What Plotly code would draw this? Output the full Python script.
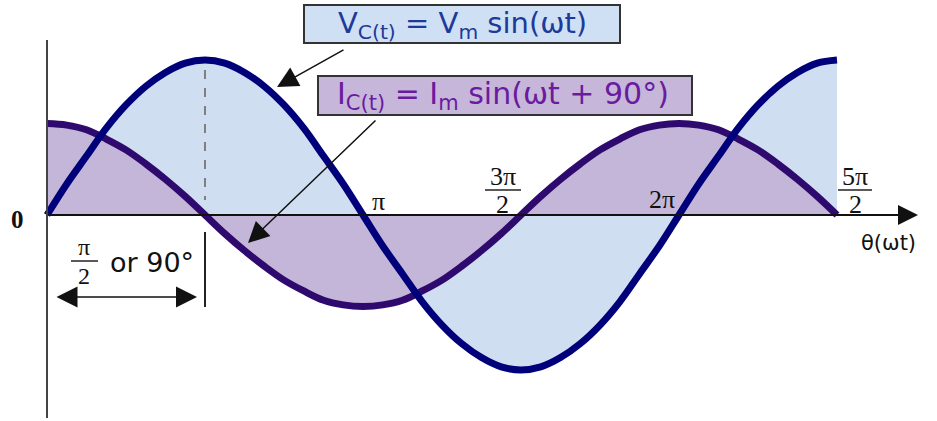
import plotly.graph_objects as go

# ---- data (x in multiples of pi) ----
theta_pi = [0, 0.0625, 0.125, 0.1875, 0.25, 0.3125, 0.375, 0.4375, 0.5,
            0.5625, 0.625, 0.6875, 0.75, 0.8125, 0.875, 0.9375, 1.0,
            1.0625, 1.125, 1.1875, 1.25, 1.3125, 1.375, 1.4375, 1.5,
            1.5625, 1.625, 1.6875, 1.75, 1.8125, 1.875, 1.9375, 2.0,
            2.0625, 2.125, 2.1875, 2.25, 2.3125, 2.375, 2.4375, 2.5]
voltage = [0, 0.20, 0.38, 0.56, 0.71, 0.83, 0.92, 0.98, 1.0,
           0.98, 0.92, 0.83, 0.71, 0.56, 0.38, 0.20, 0,
           -0.20, -0.38, -0.56, -0.71, -0.83, -0.92, -0.98, -1.0,
           -0.98, -0.92, -0.83, -0.71, -0.56, -0.38, -0.20, 0,
           0.20, 0.38, 0.56, 0.71, 0.83, 0.92, 0.98, 1.0]
current = [0.59, 0.58, 0.55, 0.49, 0.42, 0.33, 0.23, 0.12, 0,
           -0.12, -0.23, -0.33, -0.42, -0.49, -0.55, -0.58, -0.59,
           -0.58, -0.55, -0.49, -0.42, -0.33, -0.23, -0.12, 0,
           0.12, 0.23, 0.33, 0.42, 0.49, 0.55, 0.58, 0.59,
           0.58, 0.55, 0.49, 0.42, 0.33, 0.23, 0.12, 0]

W, H = 937, 421
X0, XS = 47, 316      # pixel of theta=0, pixels per pi
Y0, YS = 215, 155     # pixel of zero, pixels per unit


def px(x):
    return x / W


def py(y):
    return 1 - y / H


V_LINE, V_FILL = "#00007a", "#d0def1"
I_LINE, I_FILL = "#2f0a6e", "#c4b6d8"
SERIF = "Liberation Serif"
SANS = "DejaVu Sans"

fig = go.Figure()
fig.add_trace(go.Scatter(x=theta_pi, y=voltage, fill="tozeroy", fillcolor=V_FILL,
                         mode="lines", line=dict(width=0, shape="spline", smoothing=1),
                         hoverinfo="skip", showlegend=False))
fig.add_trace(go.Scatter(x=theta_pi, y=current, fill="tozeroy", fillcolor=I_FILL,
                         mode="lines", line=dict(width=0, shape="spline", smoothing=1),
                         hoverinfo="skip", showlegend=False))
fig.add_trace(go.Scatter(x=theta_pi, y=current, mode="lines",
                         line=dict(color=I_LINE, width=7, shape="spline", smoothing=1),
                         showlegend=False))
fig.add_trace(go.Scatter(x=theta_pi, y=voltage, mode="lines",
                         line=dict(color=V_LINE, width=7, shape="spline", smoothing=1),
                         showlegend=False))

shapes = [
    # vertical axis
    dict(type="line", xref="paper", yref="paper", x0=px(X0), x1=px(X0), y0=py(40), y1=py(418),
         line=dict(color="#444444", width=2)),
    # dashed marker at pi/2
    dict(type="line", xref="paper", yref="paper", x0=px(205), x1=px(205), y0=py(70), y1=py(200),
         line=dict(color="#7f7f7f", width=2, dash="dash")),
    # solid marker below axis
    dict(type="line", xref="paper", yref="paper", x0=px(205), x1=px(205), y0=py(232), y1=py(307),
         line=dict(color="#222222", width=2)),
    # label boxes
    dict(type="rect", xref="paper", yref="paper", x0=px(304), x1=px(620), y0=py(5), y1=py(43),
         fillcolor="#cfe0f4", line=dict(color="#333333", width=2), layer="above"),
    dict(type="rect", xref="paper", yref="paper", x0=px(318), x1=px(692), y0=py(76), y1=py(115),
         fillcolor="#c6b7da", line=dict(color="#333333", width=2), layer="above"),
    # fraction bars
    dict(type="line", xref="paper", yref="paper", x0=px(71), x1=px(98), y0=py(261), y1=py(261),
         line=dict(color="#222222", width=1.5)),
    dict(type="line", xref="paper", yref="paper", x0=px(485), x1=px(521), y0=py(190), y1=py(190),
         line=dict(color="#222222", width=1.5)),
    dict(type="line", xref="paper", yref="paper", x0=px(838), x1=px(872), y0=py(190), y1=py(190),
         line=dict(color="#222222", width=1.5)),
]

ann = []


def text(x, y, s, size, color="#111111", family=SERIF):
    ann.append(dict(xref="paper", yref="paper", x=px(x), y=py(y), text=s, showarrow=False,
                    xanchor="center", yanchor="middle",
                    font=dict(family=family, size=size, color=color)))


def arrow(hx, hy, tx, ty, width=1.5, size=2.2, both=False, color="#111111"):
    d = dict(xref="paper", yref="paper", x=px(hx), y=py(hy), ax=tx - hx, ay=ty - hy,
             text="", showarrow=True, arrowhead=2, arrowsize=size, arrowwidth=width,
             arrowcolor=color)
    if both:
        d["arrowside"] = "end+start"
        d["startarrowhead"] = 2
        d["startarrowsize"] = size
    ann.append(d)


# horizontal axis with arrow
arrow(918, Y0, X0, Y0, width=2, size=2.0)
# callout arrows
arrow(277, 87, 345, 49, width=1.5, size=2.8)
arrow(248, 243, 377, 119, width=1.5, size=2.8)
# double arrow for pi/2
arrow(197, 297, 55, 297, width=1.5, size=2.8, both=True)

# tick labels
text(17, 220, "<b>0</b>", 25)
text(378, 201, "π", 26)
text(503, 176, "3π", 26)
text(503, 204, "2", 26)
text(662, 199, "2π", 26)
text(855, 176, "5π", 26)
text(855, 204, "2", 26)
text(888, 243, "θ(ωt)", 21, family=SANS)

# pi/2 or 90 deg
text(84, 247, "π", 24)
text(84, 276, "2", 24)
text(152, 262, "or 90°", 27, family=SANS)

# label box texts
text(462, 25, "V<sub>C(t)</sub> = V<sub>m</sub> sin(ωt)", 29, color="#1c3a98", family=SANS)
text(503, 96, "I<sub>C(t)</sub> = I<sub>m</sub> sin(ωt + 90°)", 30, color="#6a1b9e", family=SANS)

fig.update_layout(
    width=W, height=H, margin=dict(l=0, r=0, t=0, b=0),
    paper_bgcolor="white", plot_bgcolor="white",
    xaxis=dict(range=[-X0 / XS, (W - X0) / XS], visible=False, fixedrange=True),
    yaxis=dict(range=[-(H - Y0) / YS, Y0 / YS], visible=False, fixedrange=True),
    shapes=shapes, annotations=ann, showlegend=False,
)

fig.write_html("out.html", config={"displayModeBar": False},
               post_script="document.body.style.margin='0';document.body.style.overflow='hidden';")
